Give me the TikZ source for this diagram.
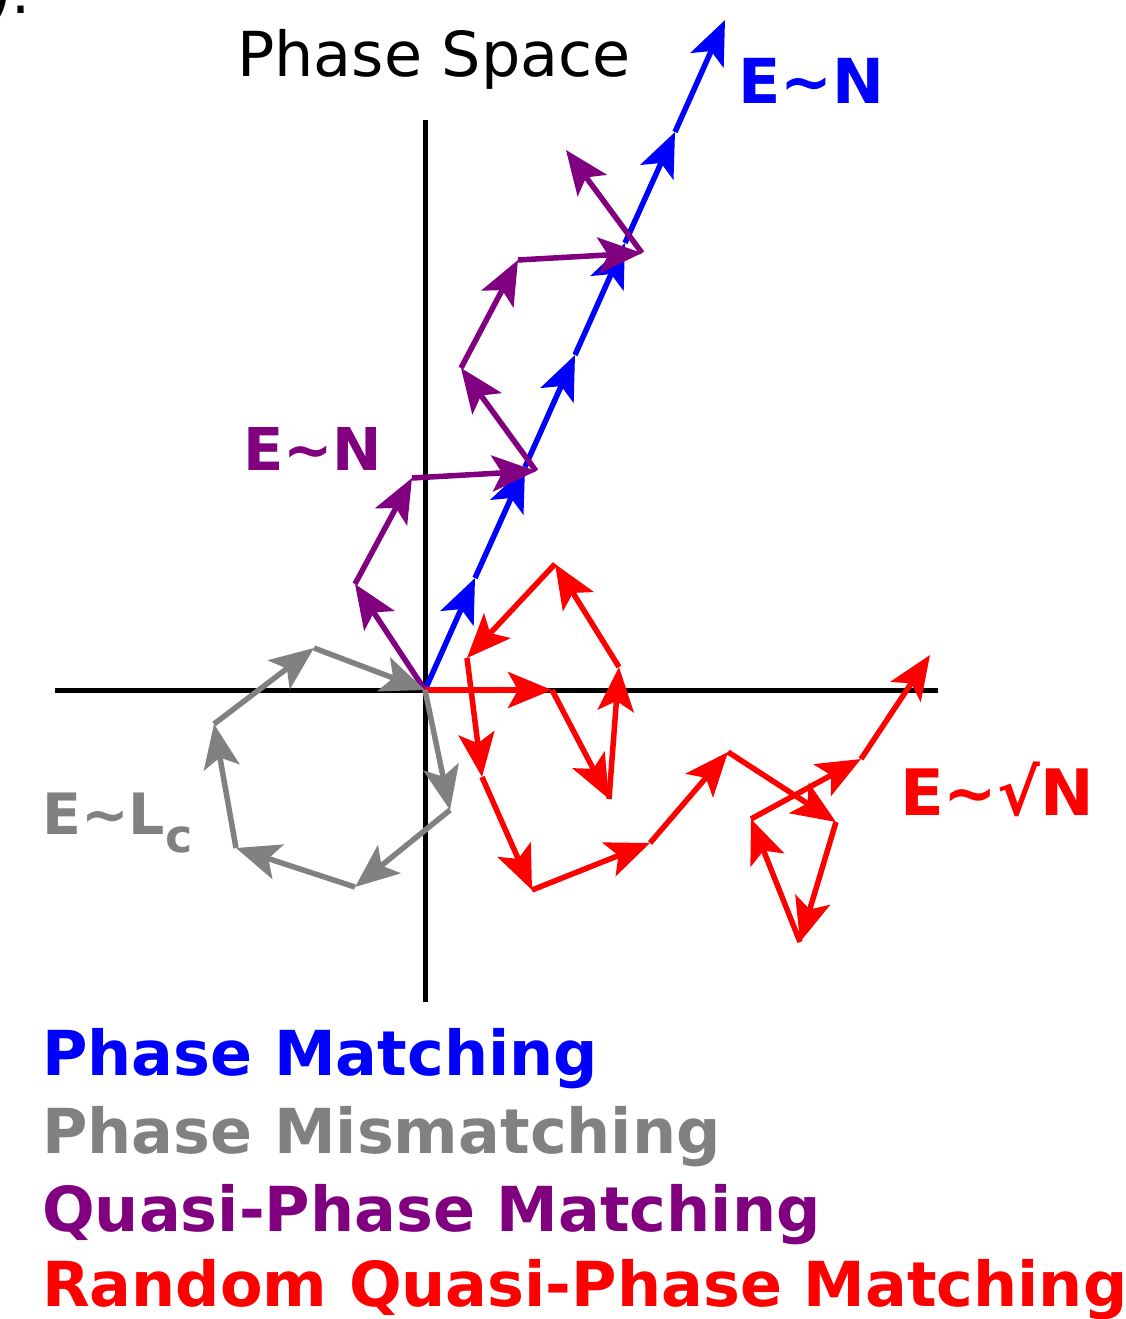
\documentclass[tikz,border=0pt]{standalone}
\usepackage{fontspec}
\setmainfont{DejaVu Sans}
\usetikzlibrary{arrows.meta}
\definecolor{pmblue}{RGB}{0,0,255}
\definecolor{pmgray}{RGB}{128,129,128}
\definecolor{pmpurple}{RGB}{128,0,128}
\definecolor{pmred}{RGB}{255,0,0}
\tikzset{
  vec/.style={line width=5.5pt, -{Stealth[length=44pt,width=36pt,inset=10pt]}},
  axisline/.style={line width=5pt, black},
  lbl/.style={inner sep=0pt, anchor=base west, font=\bfseries\fontsize{62pt}{62pt}\selectfont},
}
\begin{document}
\begin{tikzpicture}[x=1pt,y=-1pt]
\useasboundingbox (0,0) rectangle (1126,1319);

% fragment of a cut-off label at top-left
\node[inner sep=0pt, anchor=base east, font=\fontsize{60pt}{60pt}\selectfont] (frag) at (31,14) {).};

% axes
\coordinate (O) at (425,690);
\coordinate (ytop) at (425,120);
\coordinate (ybot) at (425,1002);
\coordinate (xl) at (55,690);
\coordinate (xr) at (938,690);
\draw[axisline] (ytop) -- (ybot);
\draw[axisline] (xl) -- (xr);

\node[inner sep=0pt, anchor=base west, font=\fontsize{62pt}{62pt}\selectfont] (title) at (237,77) {Phase Space};

% blue: phase matching
\coordinate (B1) at (475,578);
\coordinate (B2) at (525,467);
\coordinate (B3) at (575,355);
\coordinate (B4) at (625,243);
\coordinate (B5) at (675,132);
\coordinate (B6) at (725,20);
\draw[vec, pmblue] (O) -- (B1);
\draw[vec, pmblue] (B1) -- (B2);
\draw[vec, pmblue] (B2) -- (B3);
\draw[vec, pmblue] (B3) -- (B4);
\draw[vec, pmblue] (B4) -- (B5);
\draw[vec, pmblue] (B5) -- (B6);

% purple: quasi-phase matching
\coordinate (P1) at (355,584);
\coordinate (P2) at (412,478);
\coordinate (P3) at (536,471);
\coordinate (P4) at (461,368);
\coordinate (P5) at (518,260);
\coordinate (P6) at (642,253);
\coordinate (P7) at (566,150);
\draw[vec, pmpurple] (O) -- (P1);
\draw[vec, pmpurple] (P1) -- (P2);
\draw[vec, pmpurple] (P2) -- (P3);
\draw[vec, pmpurple] (P3) -- (P4);
\draw[vec, pmpurple] (P4) -- (P5);
\draw[vec, pmpurple] (P5) -- (P6);
\draw[vec, pmpurple] (P6) -- (P7);

% red: random quasi-phase matching
\coordinate (R1) at (552,690);
\coordinate (R2) at (609,799);
\coordinate (R3) at (619,667);
\coordinate (R4) at (555,564);
\coordinate (R5) at (467,658);
\coordinate (R6) at (482,777);
\coordinate (R7) at (532,890);
\coordinate (R8) at (650,843);
\coordinate (R9) at (728,752);
\coordinate (R10) at (836,822);
\coordinate (R11) at (800,942);
\coordinate (R12) at (751,819);
\coordinate (R13) at (861,759);
\coordinate (R14) at (930,655);
\draw[vec, pmred] (O) -- (R1);
\draw[vec, pmred] (R1) -- (R2);
\draw[vec, pmred] (R2) -- (R3);
\draw[vec, pmred] (R3) -- (R4);
\draw[vec, pmred] (R4) -- (R5);
\draw[vec, pmred] (R5) -- (R6);
\draw[vec, pmred] (R6) -- (R7);
\draw[vec, pmred] (R7) -- (R8);
\draw[vec, pmred] (R8) -- (R9);
\draw[vec, pmred] (R9) -- (R10);
\draw[vec, pmred] (R10) -- (R11);
\draw[vec, pmred] (R11) -- (R12);
\draw[vec, pmred] (R12) -- (R13);
\draw[vec, pmred] (R13) -- (R14);

% gray: phase mismatching
\coordinate (G1) at (450,810);
\coordinate (G2) at (355,887);
\coordinate (G3) at (236,848);
\coordinate (G4) at (214,724);
\coordinate (G5) at (314,648);
\draw[vec, pmgray] (O) -- (G1);
\draw[vec, pmgray] (G1) -- (G2);
\draw[vec, pmgray] (G2) -- (G3);
\draw[vec, pmgray] (G3) -- (G4);
\draw[vec, pmgray] (G4) -- (G5);
\draw[vec, pmgray] (G5) -- (O);

% scaling labels
\node[lbl, pmblue] (lblue) at (738,104) {E\textasciitilde N};
\node[lbl, pmpurple, font=\bfseries\fontsize{59pt}{59pt}\selectfont] (lpurple) at (243,470) {E\textasciitilde N};
\node[lbl, pmgray, font=\bfseries\fontsize{57pt}{57pt}\selectfont] (lgray) at (42,834) {E\textasciitilde L\raisebox{-18pt}{\fontsize{46pt}{46pt}\selectfont c}};
\node[lbl, pmred, font=\bfseries\fontsize{64pt}{64pt}\selectfont] (lred) at (900,815) {E\textasciitilde √N};

% legend
\node[lbl, pmblue] (leg1) at (42,1075) {Phase Matching};
\node[lbl, pmgray] (leg2) at (42,1153) {Phase Mismatching};
\node[lbl, pmpurple] (leg3) at (42,1231) {Quasi-Phase Matching};
\node[lbl, pmred] (leg4) at (42,1306) {Random Quasi-Phase Matching};
\end{tikzpicture}
\end{document}
